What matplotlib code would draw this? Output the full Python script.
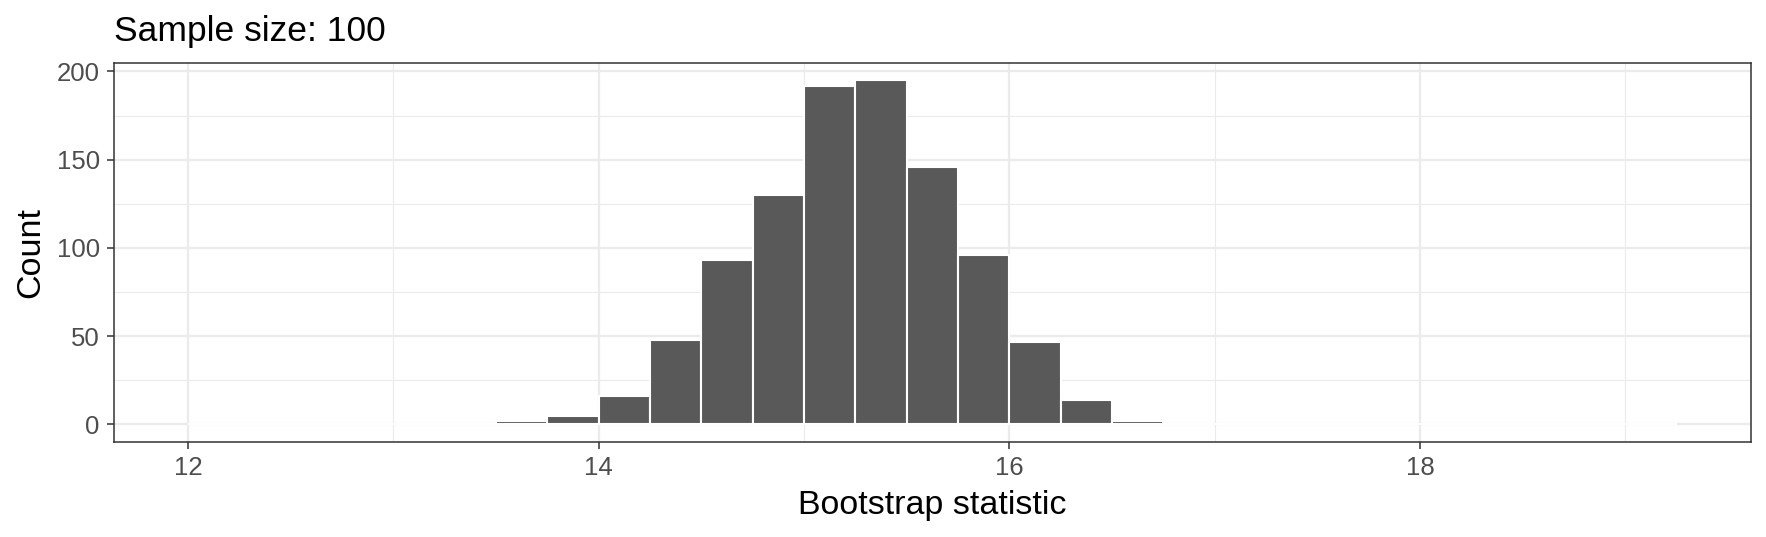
import matplotlib
matplotlib.use("Agg")
import matplotlib.pyplot as plt

# histogram of bootstrap statistics, bins of width 0.25
bin_edges = [12.0, 12.25, 12.5, 12.75, 13.0, 13.25, 13.5, 13.75, 14.0, 14.25,
             14.5, 14.75, 15.0, 15.25, 15.5, 15.75, 16.0, 16.25, 16.5, 16.75,
             17.0, 17.25, 17.5, 17.75, 18.0, 18.25, 18.5, 18.75, 19.0, 19.25]
counts = [0, 0, 0, 0, 0, 0, 2, 5, 16, 48, 93, 130, 192, 195, 146, 96, 47,
          14, 2, 0, 0, 0, 0, 0, 0, 0, 0, 0, 0]
x_ticks = [12, 14, 16, 18]
x_minor = [13, 15, 17, 19]
y_ticks = [0, 50, 100, 150, 200]
y_minor = [25, 75, 125, 175]
title = "Sample size: 100"

plt.rcParams['font.family'] = ['Liberation Sans', 'DejaVu Sans']

W, H = 1766, 537
fig = plt.figure(figsize=(W / 100, H / 100), dpi=100)
ax = fig.add_axes([113.7 / W, 1 - 441.7 / H, (1751 - 113.7) / W, (441.7 - 63) / H])

grid = '#EBEBEB'
dark = '#333333'

widths = [b - a for a, b in zip(bin_edges[:-1], bin_edges[1:])]
ax.bar(bin_edges[:-1], counts, width=widths, align='edge', color='#595959',
       edgecolor='white', linewidth=1.5, zorder=3)

# ggplot-like 5% expansion
lo, hi = bin_edges[0], bin_edges[-1]
pad = (hi - lo) * 0.05
ax.set_xlim(lo - pad, hi + pad)
ymax = max(counts)
ax.set_ylim(-ymax * 0.05, ymax * 1.05)

ax.set_xticks(x_ticks)
ax.set_xticks(x_minor, minor=True)
ax.set_yticks(y_ticks)
ax.set_yticks(y_minor, minor=True)
ax.set_xticklabels([str(v) for v in x_ticks])
ax.set_yticklabels([str(v) for v in y_ticks])

ax.grid(which='major', color=grid, linewidth=1.6, zorder=0)
ax.grid(which='minor', color=grid, linewidth=0.8, zorder=0)
ax.set_axisbelow(True)

ax.tick_params(which='major', length=5, width=1.1, color=dark,
               labelsize=18.5, labelcolor='#4D4D4D', pad=5)
ax.tick_params(axis='x', which='major', pad=5)
ax.tick_params(which='minor', length=0)

for s in ax.spines.values():
    s.set_color(dark)
    s.set_linewidth(1.1)
    s.set_zorder(5)

fig.text(114 / W, 1 - 40.7 / H, title, ha='left', va='baseline',
         fontsize=25.5, color='black')
fig.text(932.4 / W, 1 - 514 / H, "Bootstrap statistic", ha='center',
         va='baseline', fontsize=24.5, color='black')
fig.text(39.5 / W, 1 - 252.4 / H, "Count", ha='center', va='baseline',
         rotation=90, rotation_mode='anchor', fontsize=24.5, color='black')

fig.savefig('out.png', dpi=100, facecolor='white')
